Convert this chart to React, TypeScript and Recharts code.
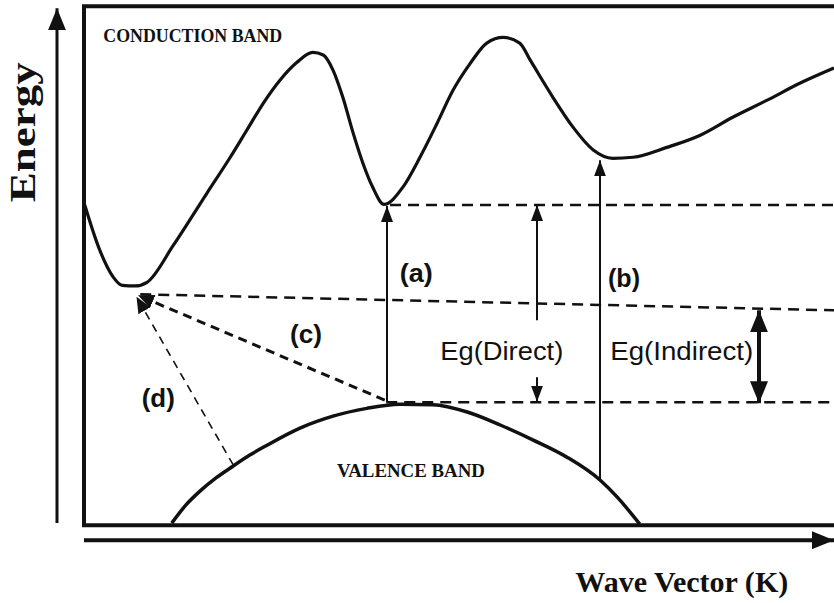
import { ComposedChart, Line, Scatter, XAxis, YAxis } from "recharts";

// wave vector k (0..100 across the frame), energy e (0..100 bottom to top of the frame)
const conductionBand = [
  { k: 0.1, e: 61.7 }, { k: 2.1, e: 53.0 }, { k: 3.9, e: 47.8 }, { k: 5.1, e: 46.2 },
  { k: 6.8, e: 46.1 }, { k: 8.4, e: 46.8 }, { k: 11.9, e: 53.9 }, { k: 16.4, e: 64.0 },
  { k: 19.5, e: 70.9 }, { k: 21.7, e: 76.1 }, { k: 23.9, e: 81.3 }, { k: 26.1, e: 85.7 },
  { k: 28.4, e: 89.2 }, { k: 30.5, e: 91.1 }, { k: 31.9, e: 90.6 }, { k: 33.2, e: 87.7 },
  { k: 34.5, e: 82.5 }, { k: 35.9, e: 75.5 }, { k: 37.2, e: 69.7 }, { k: 38.5, e: 65.1 },
  { k: 40.0, e: 61.8 }, { k: 42.5, e: 65.1 }, { k: 44.8, e: 70.9 }, { k: 47.1, e: 77.5 },
  { k: 49.2, e: 83.8 }, { k: 51.5, e: 89.0 }, { k: 53.7, e: 92.9 }, { k: 55.9, e: 94.0 },
  { k: 58.1, e: 92.9 }, { k: 59.5, e: 89.6 }, { k: 62.5, e: 82.5 }, { k: 65.2, e: 76.7 },
  { k: 67.9, e: 72.3 }, { k: 70.5, e: 70.7 }, { k: 73.2, e: 70.9 }, { k: 77.7, e: 72.8 },
  { k: 82.1, e: 75.1 }, { k: 86.5, e: 78.6 }, { k: 91.1, e: 81.9 }, { k: 95.5, e: 85.2 },
  { k: 100, e: 88.1 },
];

const valenceBand = [
  { k: 11.7, e: 0.4 }, { k: 13.6, e: 3.9 }, { k: 15.5, e: 6.6 }, { k: 17.6, e: 9.1 },
  { k: 19.9, e: 11.4 }, { k: 22.1, e: 13.5 }, { k: 24.4, e: 15.4 }, { k: 28.8, e: 18.7 },
  { k: 33.2, e: 21.0 }, { k: 37.7, e: 22.5 }, { k: 42.1, e: 23.3 }, { k: 46.5, e: 23.2 },
  { k: 51.1, e: 21.8 }, { k: 55.5, e: 19.3 }, { k: 59.9, e: 16.4 }, { k: 64.4, e: 13.1 },
  { k: 68.8, e: 8.7 }, { k: 71.1, e: 5.4 }, { k: 74.1, e: 0.2 },
];

// dashed energy levels
const directLevel = [{ k: 40.8, e: 61.7 }, { k: 100, e: 61.7 }];
const indirectLevel = [{ k: 7.5, e: 44.5 }, { k: 100, e: 41.4 }];
const valenceTop = [{ k: 40.3, e: 23.7 }, { k: 100, e: 23.7 }];

// transitions
const transitionA = [{ k: 40.4, e: 23.7 }, { k: 40.4, e: 61.5 }];
const transitionB = [{ k: 68.8, e: 8.7 }, { k: 68.8, e: 70.3 }];
const transitionC = [{ k: 40.1, e: 24.1 }, { k: 7.2, e: 44.3 }];
const transitionD = [{ k: 19.9, e: 11.6 }, { k: 7.0, e: 44.0 }];

// gap markers
const directUp = [{ k: 60.4, e: 39.5 }, { k: 60.4, e: 61.7 }];
const directDown = [{ k: 60.4, e: 28.5 }, { k: 60.4, e: 23.8 }];
const indirectGap = [{ k: 90.0, e: 23.5 }, { k: 90.0, e: 41.4 }];

// frame and axes
const frame = [{ k: 100, e: 100 }, { k: 0, e: 100 }, { k: 0, e: 0 }, { k: 100, e: 0 }];
const energyAxis = [{ k: -3.6, e: 0.4 }, { k: -3.6, e: 99.6 }];
const waveAxis = [{ k: 0, e: -2.9 }, { k: 100, e: -2.9 }];

const textLabels = [
  { k: 14.5, e: 93.1, text: "CONDUCTION BAND", kind: "band", len: 179 },
  { k: 43.6, e: 9.25, text: "VALENCE BAND", kind: "band", len: 148 },
  { k: 44.3, e: 46.8, text: "(a)", kind: "tag", len: 33 },
  { k: 72.0, e: 45.9, text: "(b)", kind: "tag", len: 32 },
  { k: 29.6, e: 35.1, text: "(c)", kind: "tag", len: 32 },
  { k: 9.9, e: 22.7, text: "(d)", kind: "tag", len: 33 },
  { k: 55.7, e: 31.8, text: "Eg(Direct)", kind: "gap", len: 123 },
  { k: 79.7, e: 31.8, text: "Eg(Indirect)", kind: "gap", len: 143 },
  { k: 79.7, e: -12.9, text: "Wave Vector (K)", kind: "axis", len: 213 },
  { k: -6.5, e: 75.7, text: "Energy", kind: "axisV", len: 140 },
];

const textStyles: Record<string, any> = {
  band: { fontFamily: "Liberation Serif", fontWeight: "bold", fontSize: 18 },
  tag: { fontFamily: "Liberation Sans", fontWeight: "bold", fontSize: 25 },
  gap: { fontFamily: "Liberation Sans", fontWeight: "normal", fontSize: 26 },
  axis: { fontFamily: "Liberation Serif", fontWeight: "bold", fontSize: 29 },
  axisV: { fontFamily: "Liberation Serif", fontWeight: "bold", fontSize: 36 },
};

function LabelShape(props: any) {
  const { cx, cy, payload } = props;
  const st = textStyles[payload.kind];
  const rotate = payload.kind === "axisV" ? `rotate(-90 ${cx} ${cy})` : undefined;
  return (
    <text
      x={cx}
      y={cy}
      textAnchor="middle"
      fill="#111"
      textLength={payload.len}
      lengthAdjust="spacingAndGlyphs"
      transform={rotate}
      {...st}
    >
      {payload.text}
    </text>
  );
}

const plain = { dot: false, activeDot: false, isAnimationActive: false, stroke: "#111", legendType: "none" as const };

export default function App() {
  return (
    <div style={{ position: "absolute", left: 0, top: 0, background: "#fff" }}>
      <ComposedChart width={834} height={603} margin={{ top: 0, right: 0, bottom: 0, left: 0 }}>
        <defs>
          <marker id="ahSmall" viewBox="0 0 16 12" refX="16" refY="6" markerWidth="16" markerHeight="13"
            markerUnits="userSpaceOnUse" orient="auto-start-reverse">
            <path d="M0,0 L16,6 L0,12 z" fill="#111" />
          </marker>
          <marker id="ahBig" viewBox="0 0 22 18" refX="22" refY="9" markerWidth="22" markerHeight="18"
            markerUnits="userSpaceOnUse" orient="auto-start-reverse">
            <path d="M0,0 L22,9 L0,18 z" fill="#111" />
          </marker>
          <marker id="ahCorner" viewBox="0 0 16 14" refX="16" refY="7" markerWidth="16" markerHeight="14"
            markerUnits="userSpaceOnUse" orient="auto">
            <path d="M0,0 L16,7 L0,14 z" fill="#111" />
          </marker>
        </defs>
        <XAxis type="number" dataKey="k" domain={[-11.2, 100]} hide allowDataOverflow />
        <YAxis type="number" dataKey="e" domain={[-15, 101.2]} hide allowDataOverflow />

        <Line {...plain} data={frame} dataKey="e" type="linear" strokeWidth={4} />
        <Line {...plain} data={energyAxis} dataKey="e" type="linear" strokeWidth={3} markerEnd="url(#ahBig)" />
        <Line {...plain} data={waveAxis} dataKey="e" type="linear" strokeWidth={4} markerEnd="url(#ahBig)" />

        <Line {...plain} data={conductionBand} dataKey="e" type="monotone" strokeWidth={3.2} />
        <Line {...plain} data={valenceBand} dataKey="e" type="monotone" strokeWidth={3.5} />

        <Line {...plain} data={directLevel} dataKey="e" type="linear" strokeWidth={2.5} strokeDasharray="11 7" />
        <Line {...plain} data={indirectLevel} dataKey="e" type="linear" strokeWidth={2.5} strokeDasharray="11 7" />
        <Line {...plain} data={valenceTop} dataKey="e" type="linear" strokeWidth={2.5} strokeDasharray="11 7" />

        <Line {...plain} data={transitionA} dataKey="e" type="linear" strokeWidth={2} markerEnd="url(#ahSmall)" />
        <Line {...plain} data={transitionB} dataKey="e" type="linear" strokeWidth={2} markerEnd="url(#ahSmall)" />
        <Line {...plain} data={transitionC} dataKey="e" type="linear" strokeWidth={3} strokeDasharray="9 6" markerEnd="url(#ahCorner)" />
        <Line {...plain} data={transitionD} dataKey="e" type="linear" strokeWidth={1.6} strokeDasharray="8 6" markerEnd="url(#ahCorner)" />

        <Line {...plain} data={directUp} dataKey="e" type="linear" strokeWidth={2} markerEnd="url(#ahSmall)" />
        <Line {...plain} data={directDown} dataKey="e" type="linear" strokeWidth={2} markerEnd="url(#ahSmall)" />
        <Line {...plain} data={indirectGap} dataKey="e" type="linear" strokeWidth={4} markerStart="url(#ahBig)" markerEnd="url(#ahBig)" />

        <Scatter data={textLabels} dataKey="e" shape={LabelShape} isAnimationActive={false} legendType="none" />
      </ComposedChart>
    </div>
  );
}
